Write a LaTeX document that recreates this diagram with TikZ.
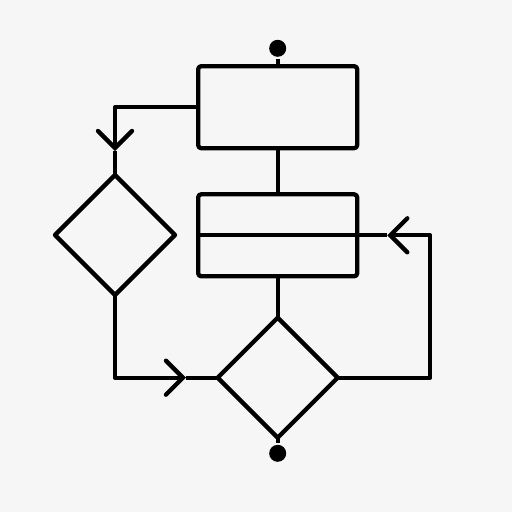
\documentclass[tikz,border=0pt]{standalone}
\usepackage{tikz}
\usetikzlibrary{arrows.meta,shapes.geometric,positioning}

\definecolor{bgcol}{RGB}{246,246,246}
\tikzset{
  box/.style={draw, rectangle, rounded corners=3pt, minimum width=159pt, minimum height=82pt, inner sep=0pt, outer sep=0pt},
  choice/.style={draw, diamond, aspect=1, minimum width=120pt, minimum height=120pt, inner sep=0pt, outer sep=0pt},
  dot/.style={circle, fill=black, minimum size=17pt, inner sep=0pt},
  chev/.style={-{Straight Barb[length=17pt, width=34pt, line cap=round]}}
}

\begin{document}
\begin{tikzpicture}[x=1pt, y=-1pt, line width=4.3pt, line join=round]
\useasboundingbox[fill=bgcol] (0,0) rectangle (512,512);
% start and end dots
\node[dot] (start) at (277.7,48.3) {};
\node[dot] (stop) at (277.7,453.3) {};
% process boxes
\node[box] (top) at (277.7,107.2) {};
\node[box] (mid) at (277.7,235.3) {};
\draw (mid.west) -- (mid.east);
% decisions
\node[choice] (left) at (115,235) {};
\node[choice] (low) at (277.7,377.7) {};
% turning points
\coordinate (a1) at (115,151);
\coordinate (a2) at (186,377.7);
\coordinate (c3) at (430,235.3);
\coordinate (a3) at (387.3,235.3);
% straight links
\draw (start) -- (top.north);
\draw (top.south) -- (mid.north);
\draw (mid.south) -- (low.north);
\draw (low.south) -- (stop);
% arrowed links
\draw[chev] (top.west) -| (a1);
\draw (a1) -- (left.north);
\draw[chev] (left.south) |- (a2);
\draw (a2) -- (low.west);
\draw[chev] (low.east) -| (c3) -- (a3);
\draw (a3) -- (mid.east);
\end{tikzpicture}
\end{document}
